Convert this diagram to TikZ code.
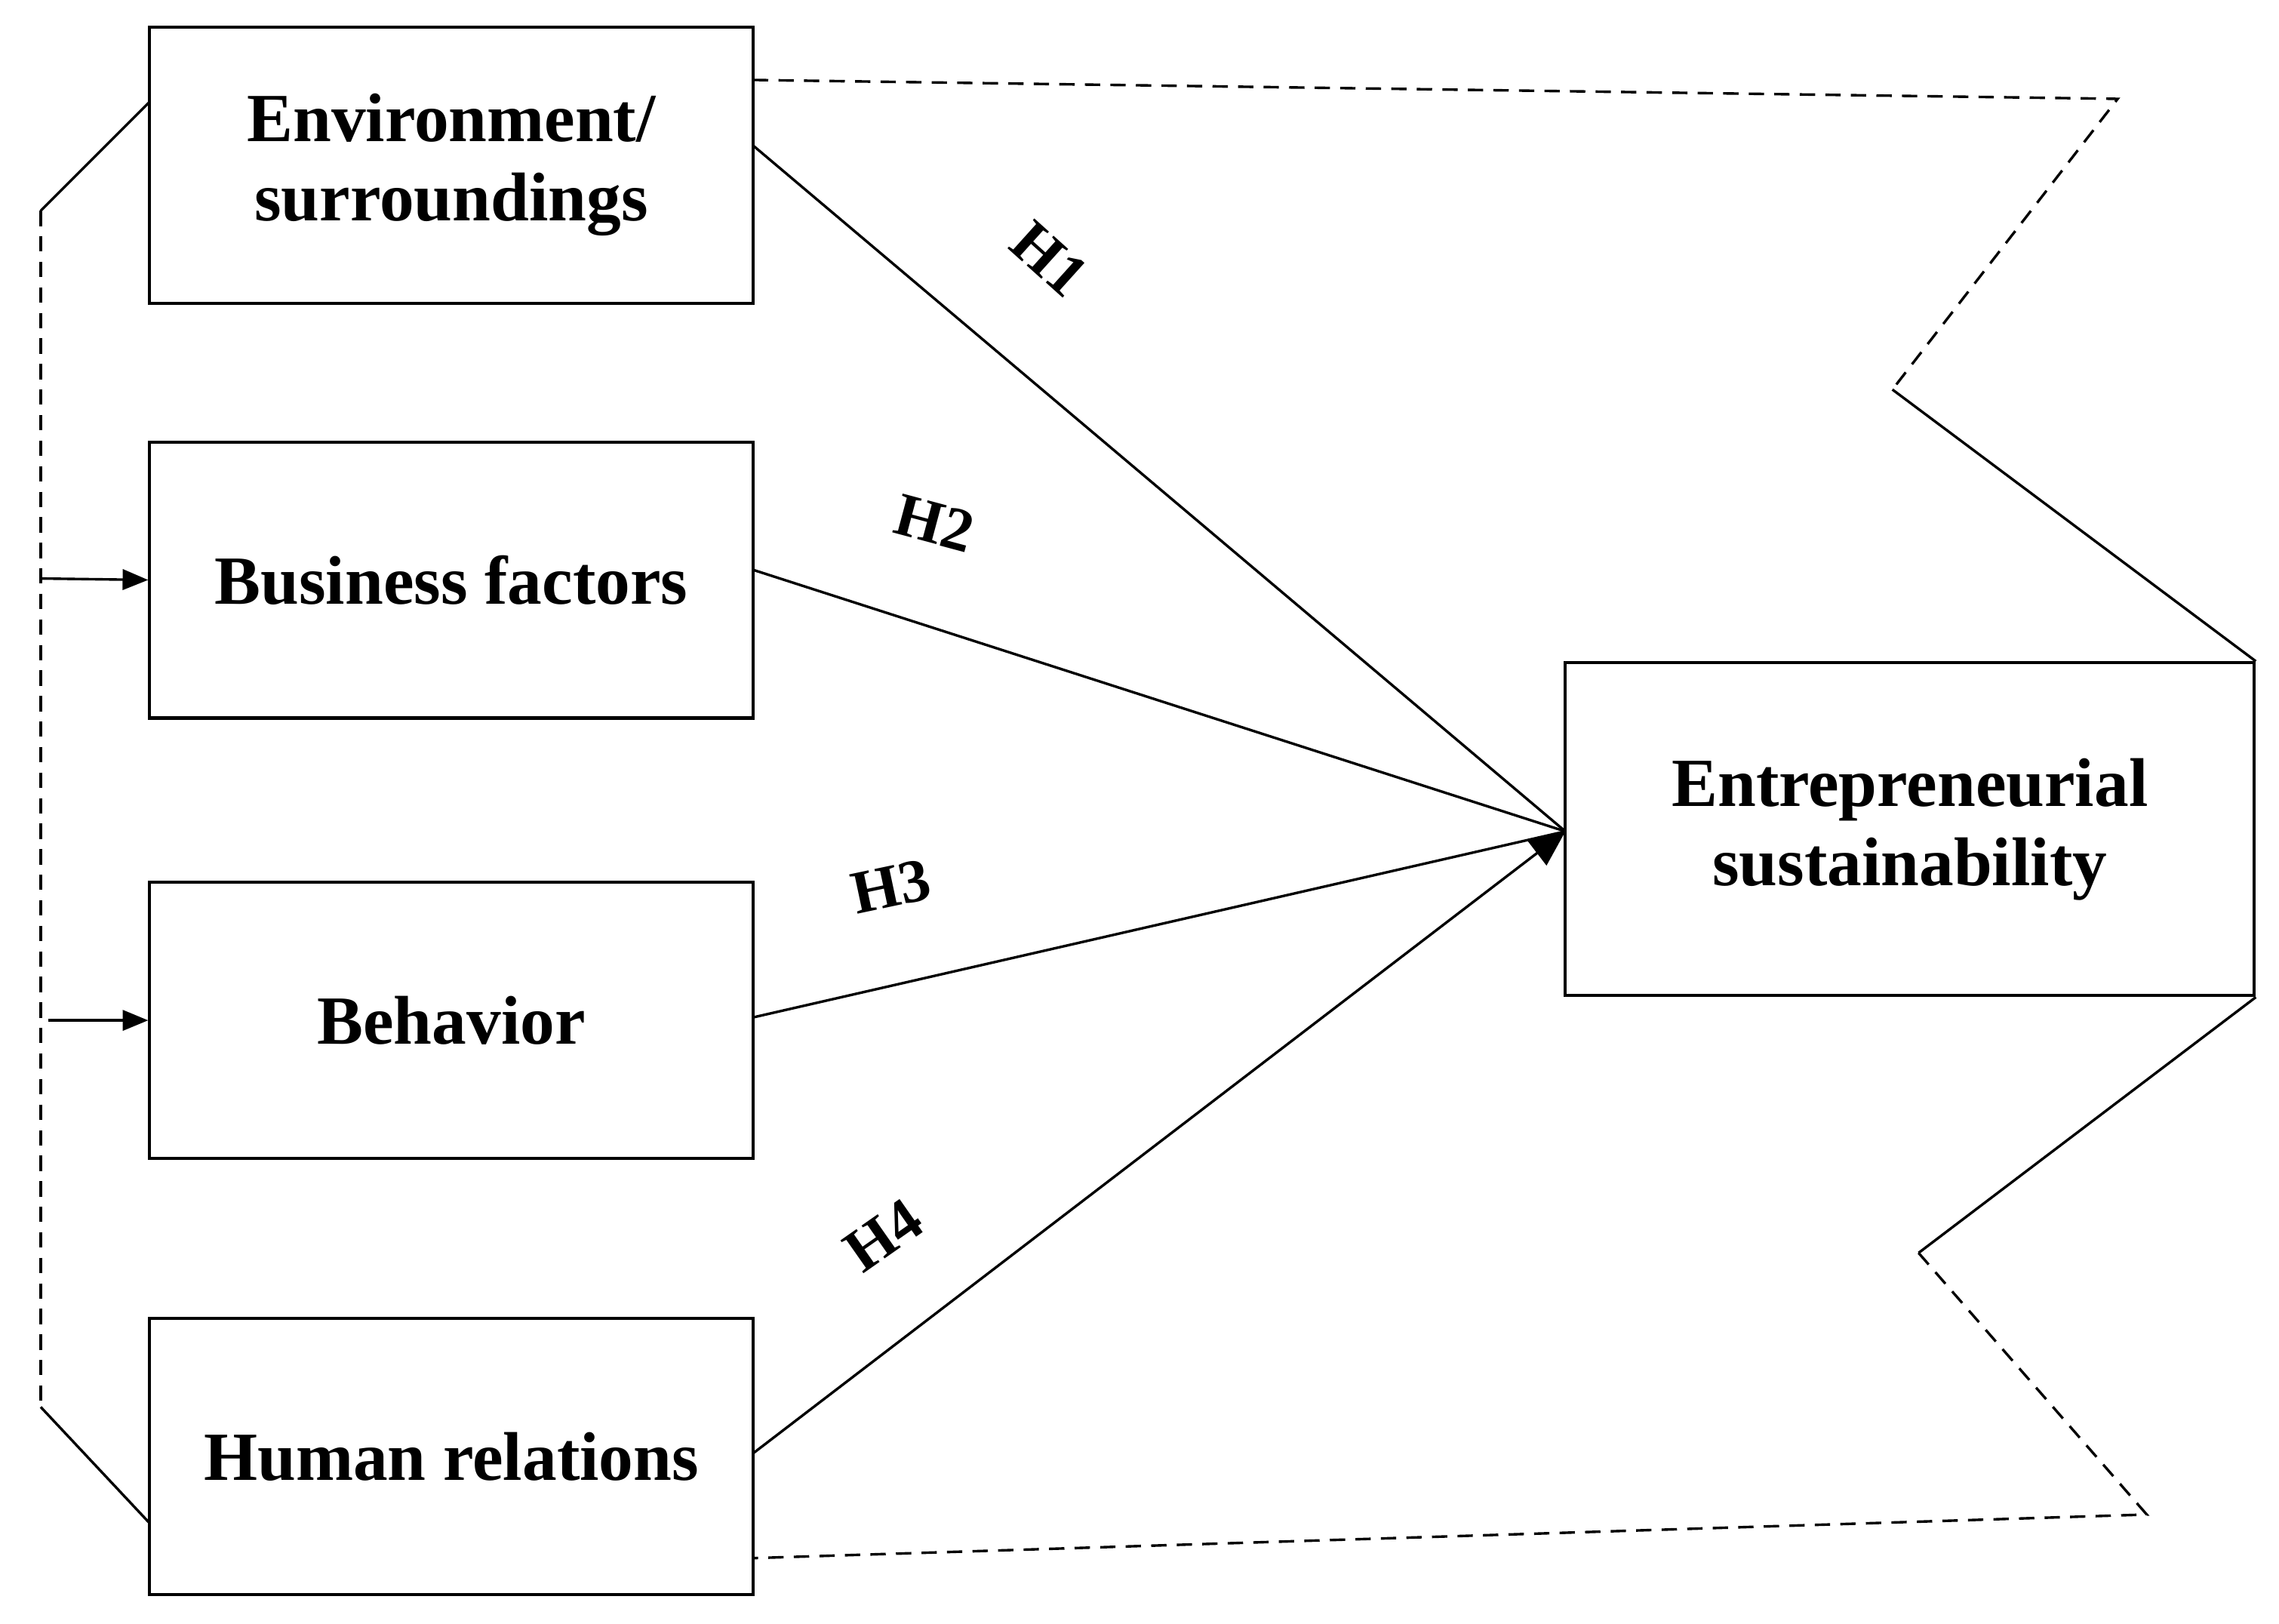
\documentclass[tikz,border=0pt]{standalone}
\usepackage{fontspec}
\setmainfont{Liberation Serif}
\usetikzlibrary{arrows.meta}
\begin{document}
\begin{tikzpicture}[x=0.02cm,y=-0.02cm,
  box/.style={draw,line width=1.2pt,minimum width=415*0.02cm,minimum height=190*0.02cm,align=center,font=\fontsize{27}{31}\selectfont\bfseries,inner sep=0pt},
  lab/.style={font=\fontsize{24}{28}\selectfont\bfseries,inner sep=1pt},
  ln/.style={line width=1pt},
  dl/.style={line width=1pt,dash pattern=on 6pt off 4pt},
  arr/.style={line width=1pt,-{Triangle[length=10pt,width=8pt]}},
  bigarr/.style={line width=1pt,-{Triangle[length=14pt,width=12pt]}}]
\useasboundingbox (0,0) rectangle (1568,1117);
\node[box] (env) at (310.5,113.5) {Environment/\\surroundings};
\node[box] (bus) at (310.5,399) {Business factors};
\node[box] (beh) at (310.5,702) {Behavior};
\node[box] (hum) at (310.5,1002) {Human relations};
\node[box,minimum width=474*0.02cm,minimum height=229*0.02cm] (ent) at (1314,570.5) {Entrepreneurial\\sustainability};
\coordinate (t) at (1077,572);
\draw[ln] (518,100) -- (t);
\draw[ln] (518,392) -- (t);
\draw[ln] (518,700) -- (t);
\draw[bigarr] (518,1000) -- (t);
\node[lab,rotate=-42] at (722,178) {H1};
\node[lab,rotate=-15] at (643,360) {H2};
\node[lab,rotate=12] at (613,610) {H3};
\node[lab,rotate=35] at (608,850) {H4};
% left bracket
\coordinate (l1) at (28,145); \coordinate (l2) at (28,968);
\draw[ln] (103,70) -- (l1);
\draw[dl] (l1) -- (l2);
\draw[ln] (l2) -- (103,1048);
\coordinate (a1) at (28,398); \coordinate (a2) at (33,702);
\draw[arr] (a1) -- (bus.west);
\draw[arr] (a2) -- (beh.west);
% right zigzags
\coordinate (r1) at (1457,68); \coordinate (r2) at (1302,268);
\draw[dl] (518,55) -- (r1) -- (r2);
\draw[ln] (r2) -- (ent.north east);
\coordinate (r3) at (1320,862); \coordinate (r4) at (1477,1042);
\draw[ln] (ent.south east) -- (r3);
\draw[dl] (r3) -- (r4) -- (518,1072);
\end{tikzpicture}
\end{document}
